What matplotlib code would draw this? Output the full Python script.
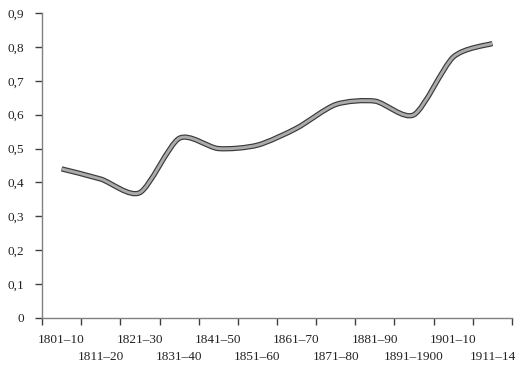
import numpy as np
import matplotlib
matplotlib.use("Agg")
import matplotlib.pyplot as plt
from matplotlib.path import Path
from matplotlib.patches import PathPatch
from matplotlib.ticker import FixedLocator, FuncFormatter
import matplotlib.transforms as mtransforms

periods = ["1801–10", "1811–20", "1821–30", "1831–40", "1841–50", "1851–60",
           "1861–70", "1871–80", "1881–90", "1891–1900", "1901–10", "1911–14"]
values = [0.44, 0.41, 0.37, 0.53, 0.50, 0.51, 0.56, 0.63, 0.64, 0.60, 0.77, 0.81]

plt.rcParams['font.family'] = ['Liberation Serif', 'DejaVu Serif']

fig = plt.figure(figsize=(5.21, 3.73), dpi=100)
ax = fig.add_axes([42/521, 55/373, 470/521, 305/373])

x = np.arange(len(values), dtype=float)
y = np.array(values)

# smoothed line (Excel style): cubic bezier segments through the points
verts = [(x[0], y[0])]
codes = [Path.MOVETO]
t = 0.13
for i in range(len(x) - 1):
    p0 = (x[max(i-1, 0)], y[max(i-1, 0)])
    p1 = (x[i], y[i])
    p2 = (x[i+1], y[i+1])
    p3 = (x[min(i+2, len(x)-1)], y[min(i+2, len(x)-1)])
    c1 = (p1[0] + (p2[0]-p0[0])*t, p1[1] + (p2[1]-p0[1])*t)
    c2 = (p2[0] - (p3[0]-p1[0])*t, p2[1] - (p3[1]-p1[1])*t)
    verts += [c1, c2, p2]
    codes += [Path.CURVE4]*3
path = Path(verts, codes)
ax.add_patch(PathPatch(path, facecolor='none', edgecolor='#3a3a3a', lw=3.8,
                       capstyle='butt', joinstyle='round', zorder=3))
ax.add_patch(PathPatch(path, facecolor='none', edgecolor='#ababab', lw=2.1,
                       capstyle='butt', joinstyle='round', zorder=4))

ax.set_xlim(-0.5, len(values) - 0.5)
ax.set_ylim(0, 0.9)

for s in ['top', 'right']:
    ax.spines[s].set_visible(False)
for s in ['left', 'bottom']:
    ax.spines[s].set_color('#808080')
    ax.spines[s].set_linewidth(1.0)

ax.set_yticks(np.arange(0, 0.91, 0.1))
ax.yaxis.set_major_formatter(FuncFormatter(
    lambda v, p: '0' if abs(v) < 1e-9 else ('%.1f' % v).replace('.', ',')))
ax.tick_params(axis='y', direction='out', length=5, width=1, color='#404040',
               labelsize=9.5, pad=8, colors='#222222')

# category labels in two staggered rows
ax.set_xticks([])
ax.xaxis.set_minor_locator(FixedLocator(np.arange(-0.5, len(values), 1.0)))
ax.tick_params(axis='x', which='minor', direction='out', length=5, width=1,
               color='#404040')
for i, p in enumerate(periods):
    off = -22 if i % 2 == 0 else -39
    tr = mtransforms.offset_copy(ax.get_xaxis_transform(), fig=fig,
                                 x=0, y=off, units='dots')
    ax.text(x[i], 0, p, transform=tr, ha='center', va='center',
            fontsize=9.5, color='#222222')

fig.savefig('out.png', dpi=100)
